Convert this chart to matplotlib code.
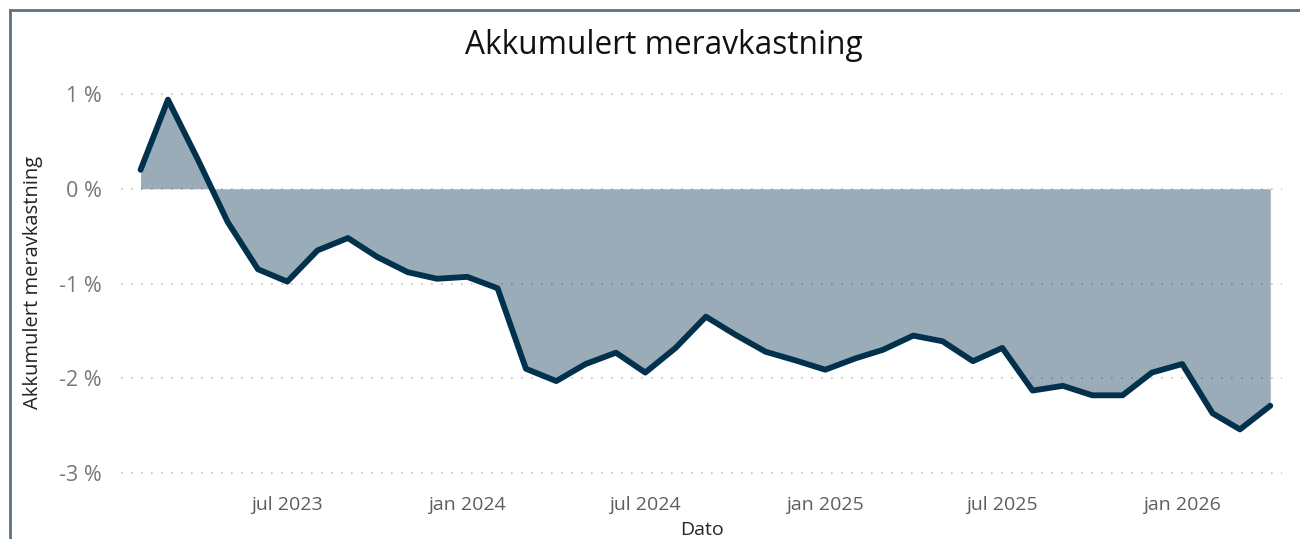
import numpy as np
import matplotlib.pyplot as plt
import matplotlib.dates as mdates
from matplotlib.ticker import FuncFormatter
from matplotlib.lines import Line2D

plt.rcParams['font.family'] = ['Open Sans', 'DejaVu Sans']

# månedlige observasjoner, feb 2023 - apr 2026
datoer = np.arange('2023-02', '2026-05', dtype='datetime64[M]').astype('datetime64[D]')
meravkastning = [
    0.20, 0.94, 0.30, -0.35, -0.85, -0.98, -0.65, -0.52, -0.72, -0.88, -0.95,
    -0.93, -1.05, -1.90, -2.03, -1.85, -1.73, -1.94, -1.68, -1.35, -1.54, -1.72,
    -1.81, -1.91, -1.79, -1.70, -1.55, -1.61, -1.82, -1.68, -2.13, -2.08, -2.18,
    -2.18, -1.94, -1.85, -2.37, -2.54, -2.29,
]
y_ticks = [1, 0, -1, -2, -3]
maaneder = ['jan', 'feb', 'mar', 'apr', 'mai', 'jun', 'jul', 'aug', 'sep', 'okt', 'nov', 'des']

LINJEFARGE = '#01314d'

fig = plt.figure(figsize=(13, 5.39), dpi=100)
ax = fig.add_axes([121 / 1300, (539 - 485) / 539, (1282 - 121) / 1300, 405 / 539])

x = datoer.astype('datetime64[D]').astype(object)
verdier = np.array(meravkastning)
ax.fill_between(x, verdier, 0, color=LINJEFARGE, alpha=0.4, linewidth=0, zorder=2)
ax.plot(x, verdier, color=LINJEFARGE, linewidth=4.2, solid_joinstyle='round',
        solid_capstyle='round', zorder=3)

ax.set_xlim(datoer[0] - np.timedelta64(20, 'D'), datoer[-1] + np.timedelta64(12, 'D'))
ax.set_ylim(-3 - 12 / 94.75, 1 + 14 / 94.75)

ax.set_yticks(y_ticks)
ax.yaxis.set_major_formatter(FuncFormatter(lambda v, p: f"{v:.0f} %".replace('-0 %', '0 %')))
ax.xaxis.set_major_locator(mdates.MonthLocator(bymonth=[1, 7]))
ax.xaxis.set_major_formatter(FuncFormatter(
    lambda v, p: f"{maaneder[mdates.num2date(v).month - 1]} {mdates.num2date(v).year}"))

ax.grid(axis='y', color='#c4c4c4', linewidth=1.2, linestyle=(0, (1, 5)), zorder=1)
ax.tick_params(axis='both', length=0)
ax.tick_params(axis='y', labelsize=15.5, labelcolor='#777777', pad=14)
ax.tick_params(axis='x', labelsize=14, labelcolor='#605e5c', pad=8)
for s in ax.spines.values():
    s.set_visible(False)

ax.set_xlabel('Dato', fontsize=14, color='#252423', labelpad=5)
fig.text(33 / 1300, 1 - 282 / 539, 'Akkumulert meravkastning', rotation=90,
         ha='center', va='center', fontsize=14.5, color='#252423')
fig.text(664 / 1300, 1 - 46 / 539, 'Akkumulert meravkastning', ha='center', va='center',
         fontsize=22.8, color='#111111')

# ramme øverst og til venstre
ramme = '#5e7180'
fig.add_artist(Line2D([10 / 1300, 1], [1 - 10 / 539] * 2, color=ramme, linewidth=2,
                      transform=fig.transFigure))
fig.add_artist(Line2D([10 / 1300] * 2, [0, 1 - 10 / 539], color=ramme, linewidth=2,
                      transform=fig.transFigure))

fig.savefig('out.png', dpi=100)
